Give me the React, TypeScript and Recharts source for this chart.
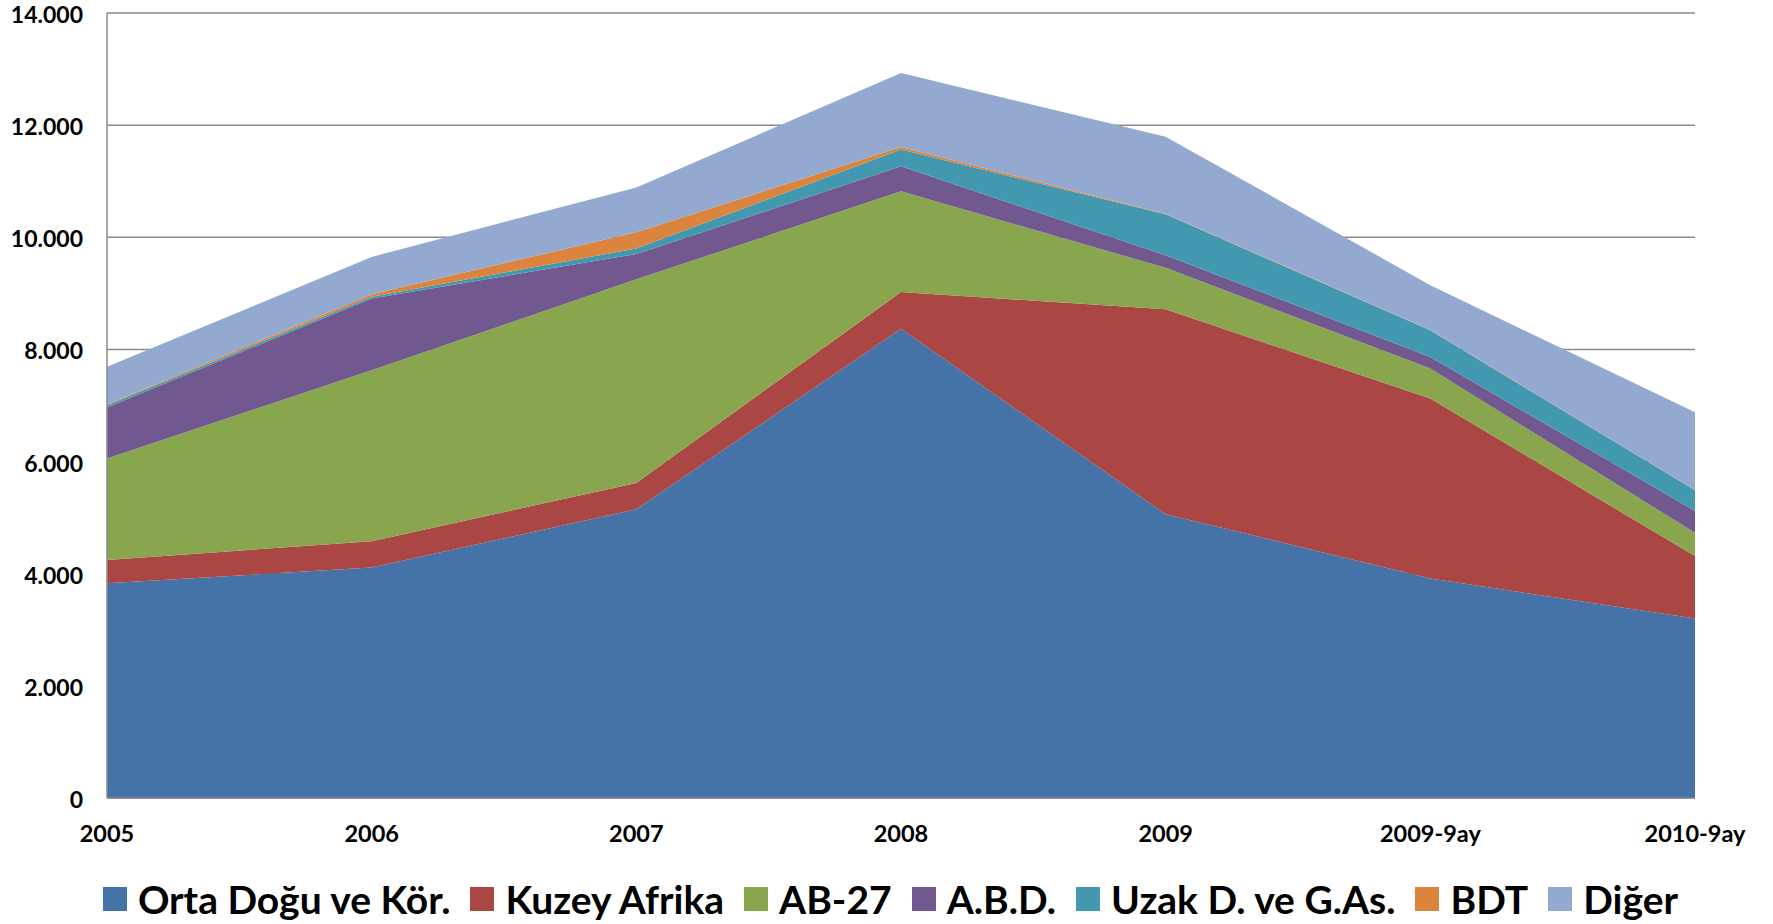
import React from "react";
import { Area, AreaChart, CartesianGrid, XAxis, YAxis } from "recharts";

const categories = ["2005", "2006", "2007", "2008", "2009", "2009-9ay", "2010-9ay"];
const ortaDogu = [3830, 4110, 5150, 8370, 5060, 3915, 3200];
const kuzeyAfrika = [415, 470, 470, 655, 3655, 3210, 1115];
const ab27 = [1810, 3050, 3630, 1795, 740, 535, 415];
const abd = [910, 1280, 450, 445, 225, 205, 390];
const uzakDogu = [40, 30, 100, 300, 730, 475, 370];
const bdt = [15, 45, 290, 45, 10, 5, 5];
const diger = [670, 665, 800, 1320, 1375, 800, 1385];
const yTicks = [0, 2000, 4000, 6000, 8000, 10000, 12000, 14000];

type Series = { label: string; color: string; values: number[] };

const series: Series[] = [
  { label: "Orta Doğu ve Kör.", color: "#4572A7", values: ortaDogu },
  { label: "Kuzey Afrika", color: "#AA4643", values: kuzeyAfrika },
  { label: "AB-27", color: "#89A54E", values: ab27 },
  { label: "A.B.D.", color: "#71588F", values: abd },
  { label: "Uzak D. ve G.As.", color: "#4198AF", values: uzakDogu },
  { label: "BDT", color: "#DB843D", values: bdt },
  { label: "Diğer", color: "#93A9CF", values: diger },
];

const data = categories.map((name, i) => {
  const row: Record<string, string | number> = { name };
  series.forEach((s) => {
    row[s.label] = s.values[i];
  });
  return row;
});

const formatTick = (v: number) =>
  v === 0 ? "0" : v.toLocaleString("en-US").replace(/,/g, ".");

const W = 1773;
const H = 924;
const gridColor = "#8a8a8a";
const font = "Lato, 'Open Sans', sans-serif";

// y labels: baseline pushed down a bit so the top label stays inside the page
const YTick = (props: any) => {
  const { x, y, payload } = props;
  return (
    <text
      x={x}
      y={y + 10}
      textAnchor="end"
      fill="#000"
      fontSize={23}
      fontWeight={700}
      fontFamily={font}
    >
      {formatTick(Number(payload.value))}
    </text>
  );
};

const App = () => (
  <div
    style={{
      position: "absolute",
      left: 0,
      top: 0,
      width: W,
      height: H,
      background: "#fff",
      fontFamily: font,
    }}
  >
    <AreaChart
      width={W}
      height={H}
      data={data}
      margin={{ top: 13, right: 78, bottom: 66, left: 0 }}
    >
      <CartesianGrid vertical={false} stroke={gridColor} strokeWidth={1.5} />
      <XAxis
        dataKey="name"
        height={60}
        interval={0}
        axisLine={{ stroke: gridColor, strokeWidth: 1.5 }}
        tickLine={false}
        tickMargin={21}
        tick={{ fill: "#000", fontSize: 23.5, fontWeight: 700, fontFamily: font }}
      />
      <YAxis
        width={107}
        domain={[0, 14000]}
        ticks={yTicks}
        interval={0}
        axisLine={{ stroke: gridColor, strokeWidth: 1.5 }}
        tickLine={false}
        tickMargin={18}
        tick={<YTick />}
      />
      {series.map((s) => (
        <Area
          key={s.label}
          type="linear"
          dataKey={s.label}
          stackId="1"
          stroke="none"
          fill={s.color}
          fillOpacity={1}
          isAnimationActive={false}
        />
      ))}
    </AreaChart>

    <div
      style={{
        position: "absolute",
        left: 0,
        top: 875,
        width: 1781,
        height: 48,
        display: "flex",
        alignItems: "center",
        justifyContent: "center",
      }}
    >
      {series.map((s, i) => (
        <div
          key={s.label}
          style={{
            display: "flex",
            alignItems: "center",
            marginRight: i === series.length - 1 ? 0 : 20,
          }}
        >
          <div style={{ width: 24, height: 24, background: s.color, marginRight: 11 }} />
          <span style={{ fontSize: 39, fontWeight: 700, color: "#000", whiteSpace: "nowrap" }}>
            {s.label}
          </span>
        </div>
      ))}
    </div>
  </div>
);

export default App;
